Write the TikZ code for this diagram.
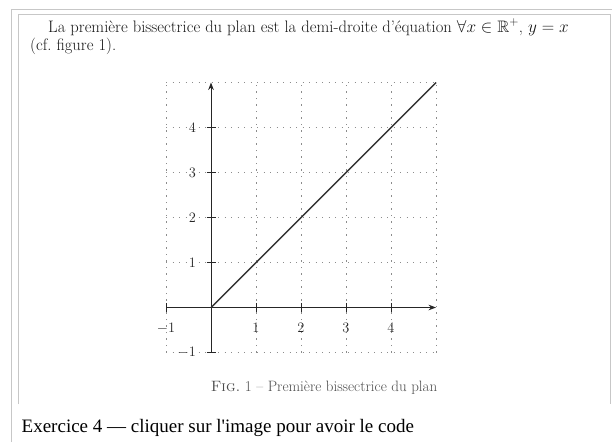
\documentclass[tikz,border=0pt]{standalone}
\usepackage{amsmath,amssymb}
\usepackage{fontspec}
\newfontfamily\webfont{Liberation Serif}
\usetikzlibrary{arrows.meta, positioning}

\begin{document}
\begin{tikzpicture}[x=1pt, y=-1pt, >=Stealth,
    cadre/.style={draw=black!22, line width=0.8pt},
    texte/.style={anchor=base west, inner sep=0pt, font=\fontsize{16.6}{20}\selectfont, text=black!90},
    grille/.style={black!45, line width=0.9pt, dash pattern=on 1.2pt off 5.3pt},
    axe/.style={->, line width=1pt, black!85},
    courbe/.style={line width=1.4pt, black!80},
    etiq/.style={font=\fontsize{15}{18}\selectfont, text=black!85, inner sep=0pt}]
  \useasboundingbox (0,0) rectangle (612,442);
  % cadres
  \draw[cadre] (11,442) -- (11,9) -- (612,9);
  \draw[cadre] (18,404) -- (18,14) -- (610,14) -- (610,404);
  % texte de la page
  \node[texte] (ligne1) at (48,32) {La première bissectrice du plan est la demi-droite d'équation $\forall x\in\mathbb{R}^+$, $y=x$};
  \node[texte] (ligne2) at (30,50) {(cf.\ figure 1).};
  % repere
  \begin{scope}[shift={(211,307.5)}, x=45pt, y=45pt]
    \draw[grille] (-1,-1) grid[step=1] (5,5);
    \coordinate (O) at (0,0);
    \coordinate (xmin) at (-1,0);
    \coordinate (xmax) at (5,0);
    \coordinate (ymin) at (0,-1);
    \coordinate (ymax) at (0,5);
    \draw[axe] (xmin) -- (xmax);
    \draw[axe] (ymin) -- (ymax);
    \foreach \i in {-1,1,2,3,4} {
      \draw[black!85] (\i,-0.1) -- (\i,0.1);
      \draw[black!85] (-0.1,\i) -- (0.1,\i);
      \node[etiq, anchor=north] (lx\i) at (\i,-0.35) {$\i$};
      \node[etiq, anchor=east] (ly\i) at (-0.33,\i) {$\i$};
    }
    \coordinate (fin) at (5,5);
    \draw[courbe] (O) -- (fin);
  \end{scope}
  \node[font=\fontsize{15}{18}\selectfont, text=black!70, anchor=base] (legende) at (324,391) {\textsc{Fig.}~1 -- Première bissectrice du plan};
  \node[font=\webfont\fontsize{19}{22}\selectfont, anchor=base west, inner sep=0pt] (exo) at (21.5,432) {Exercice 4 — cliquer sur l'image pour avoir le code};
\end{tikzpicture}
\end{document}
